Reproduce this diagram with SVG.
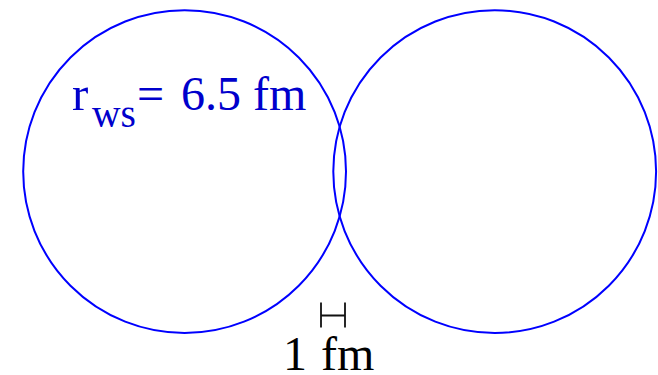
<svg xmlns="http://www.w3.org/2000/svg" width="658" height="375" viewBox="0 0 658 375">
<style>
.c{fill:none;stroke:#0000ff;stroke-width:2}
.t{font-family:"Liberation Serif","Times New Roman",serif;fill:#0000cc}
.k{font-family:"Liberation Serif","Times New Roman",serif;fill:#000}
.bar{stroke:#111;stroke-width:1.8;fill:none}
</style>
<rect width="658" height="375" fill="#fff"/>
<g id="left-nucleus">
<circle class="c" cx="184.6" cy="171.6" r="161.4"/>
<text class="t" x="72" y="110" font-size="49">r</text>
<text class="t" x="92" y="127" font-size="39.5">ws</text>
<text class="t" x="137" y="110" font-size="48">=</text>
<text class="t" x="181" y="110" font-size="48">6.5 fm</text>
</g>
<g id="right-nucleus">
<circle class="c" cx="494.7" cy="171.6" r="161.4"/>
</g>
<g id="scale">
<path class="bar" d="M321,302.5V327.5M345,302.5V327.5M321,315.5H345"/>
<text class="k" x="283" y="370" font-size="48">1</text>
<text class="k" x="321" y="370" font-size="48">fm</text>
</g>
</svg>
